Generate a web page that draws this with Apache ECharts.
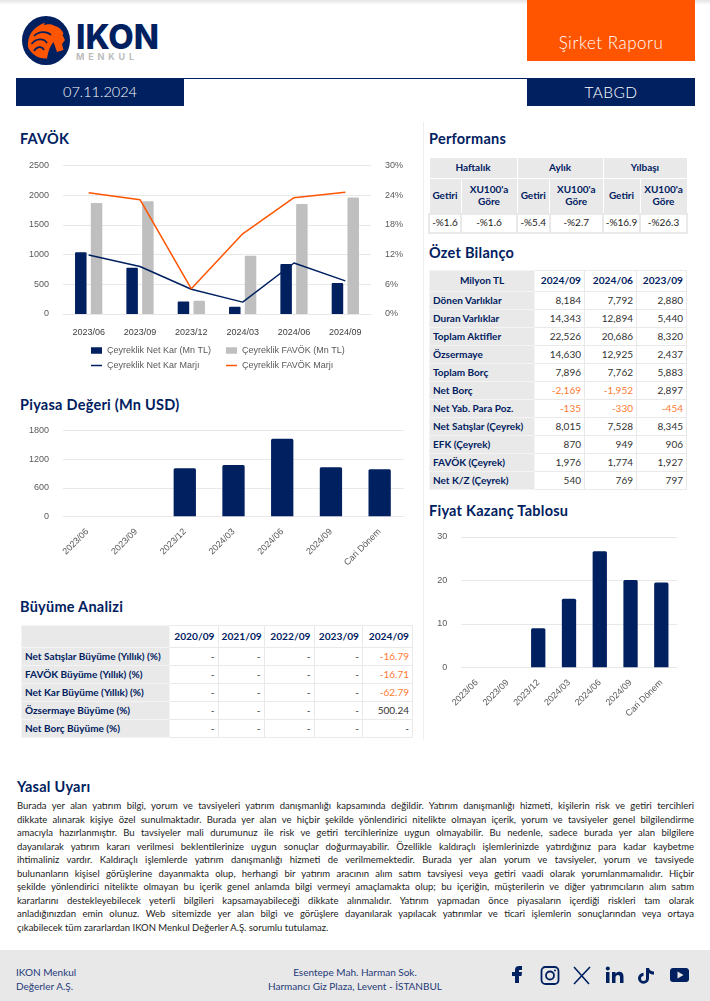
<!DOCTYPE html>
<html lang="tr"><head><meta charset="utf-8">
<script src="https://cdn.jsdelivr.net/npm/echarts@6/dist/echarts.min.js"></script>
<style>
html,body{margin:0;padding:0;background:#fff}
body{width:710px;height:1001px;position:relative;overflow:hidden;font-family:Lato,sans-serif;color:#002060}
.a{position:absolute}
.title{position:absolute;font:700 14.5px/18px Lato,sans-serif;letter-spacing:.25px;color:#002060;white-space:nowrap}
table{position:absolute;border-collapse:collapse;table-layout:fixed;font-size:10px;line-height:11.5px}
td{border:1px solid #e9e9e9;padding:0 3px;box-sizing:border-box;white-space:nowrap;overflow:hidden}
td.l{background:#e9e9e9;font-weight:700;color:#002060;border-color:#f4f4f4}
td.h{font-weight:700;color:#002060;text-align:right;font-size:10.2px}
td.v{text-align:right;color:#333}
td.n{color:#ff7a33}
td.c{text-align:center}
.g{background:#e9e9e9!important;border-color:#fff!important;font-weight:700;color:#002060;text-align:center}
#legal div{text-align:justify;text-align-last:justify;white-space:nowrap;height:13.55px;line-height:13.55px}
#legal div:last-child{text-align-last:left}
</style></head><body>
<div class="a" style="left:0;top:0;width:710px;height:5px;background:linear-gradient(#e4e4e4,#fff)"></div>
<svg class="a" style="left:20px;top:14px" width="145" height="52" viewBox="0 0 145 52">
<ellipse cx="26" cy="26.500" rx="24" ry="24.500" fill="#002060"/>
<path d="M8 33C7 22 13 13 25 8.500C24 10 24 10.500 24 11C28 9.500 32 10 35 12C39 13 42 16 43.500 19.500L42.500 21L45 26L42 30L43.500 36L37 38L33.500 28C30 32 28 38 27 44.500C18 45 11 40 8 33Z" fill="#ff5500"/>
<path d="M14 22C19 17 27 17 31 21M11.500 30C16 24 24 24 27 29M14 37C17 32 22 32 24 36" stroke="#002060" stroke-width="1.700" fill="none"/>
<text x="56" y="35" font-family="Inter,sans-serif" font-weight="800" font-size="34" fill="#002060" textLength="83" lengthAdjust="spacingAndGlyphs">IKON</text>
<text x="56" y="46" font-family="Inter,sans-serif" font-weight="700" font-size="9" fill="#bdbdbd" textLength="58">MENKUL</text>
</svg>
<div class="a" style="left:527px;top:0;width:168px;height:61px;background:#ff5500;color:#fff;font:300 17px/20px Lato;letter-spacing:.5px;text-align:center;padding-top:33px;box-sizing:border-box">Şirket Raporu</div>
<div class="a" style="left:16px;top:78px;width:679px;height:1px;background:#002060"></div>
<div class="a" style="left:16px;top:78px;width:168px;height:28px;background:#002060;color:#fff;font:300 14.5px/28px Lato;text-align:center">07.11.2024</div>
<div class="a" style="left:527px;top:78px;width:168px;height:28px;background:#002060;color:#fff;font:300 15.5px/28px Lato;letter-spacing:.4px;text-align:center">TABGD</div>
<div class="a" style="left:423px;top:122px;width:1px;height:618px;background:#eee"></div>

<div class="title" style="left:20px;top:130px">FAVÖK</div>
<div class="title" style="left:20px;top:396px">Piyasa Değeri (Mn USD)</div>
<div class="title" style="left:20px;top:598px">Büyüme Analizi</div>
<div class="title" style="left:429px;top:130px">Performans</div>
<div class="title" style="left:429px;top:244px">Özet Bilanço</div>
<div class="title" style="left:429px;top:502px">Fiyat Kazanç Tablosu</div>
<div class="title" style="left:17px;top:778px">Yasal Uyarı</div>

<div id="c1" class="a" style="left:0;top:150px;width:423px;height:235px"></div>
<div id="c2" class="a" style="left:0;top:415px;width:423px;height:175px"></div>
<div id="c3" class="a" style="left:424px;top:520px;width:286px;height:215px"></div>
<table id="tPerf" style="left:428px;top:157px;width:258px"></table>
<table id="tBal" style="left:429px;top:270px;width:257px"></table>
<table id="tGrow" style="left:21px;top:625px;width:391px"></table>
<div id="legal" class="a" style="left:17px;top:799px;width:677px;font-size:9.500px;color:#222"></div>
<div class="a" style="left:0;top:950px;width:710px;height:51px;background:#e8e8e8"></div>
<div class="a" style="left:16px;top:965px;font-size:10px;line-height:14px;color:#1f3a78">IKON Menkul<br>Değerler A.Ş.</div>
<div class="a" style="left:240px;top:965px;width:230px;text-align:center;font-size:10px;line-height:14px;color:#1f3a78">Esentepe Mah. Harman Sok.<br>Harmancı Giz Plaza, Levent - İSTANBUL</div>
<svg class="a" style="left:505px;top:960px" width="195" height="30" viewBox="505 960 195 30" fill="#002060">
<path d="M515 983V976H512V972H515V969.500C515 967 517 966 519 966H522V970H520C519 970 519 970.500 519 971V972H522L521.500 976H519V983Z"/>
<rect x="541.500" y="967" width="17" height="17" rx="4" fill="none" stroke="#002060" stroke-width="1.800"/><circle cx="550" cy="975.500" r="4" fill="none" stroke="#002060" stroke-width="1.800"/><circle cx="555" cy="970.500" r="1"/>
<path d="M574 967L589 984M590 967L574 984" stroke="#002060" stroke-width="1.600" fill="none"/>
<rect x="606" y="972" width="3.500" height="11"/><circle cx="607.800" cy="968.500" r="2"/><path d="M612 972H615.500V973.800C616.500 972.300 618 971.800 619.500 971.800C622 971.800 623.500 973.500 623.500 976.500V983H620V977.500C620 975.800 619.300 975 618 975C616.500 975 615.500 976 615.500 977.500V983H612Z"/>
<path d="M646 968V978.500A2.500 2.500 0 1 1 643.500 976V972.800A5.500 5.500 0 1 0 649 978.500V973C650.500 974 652 974.500 654 974.500V971.500C651 971.500 649.500 970 649 968Z"/>
<path d="M673 968H686C688 968 689 969.500 689 971V979C689 981 688 982 686 982H673C671 982 670 981 670 979V971C670 969.500 671 968 673 968Z"/><path d="M677.500 971.500L683.500 975L677.500 978.500Z" fill="#e8e8e8"/>
</svg>
<script>
const categories=["2023/06","2023/09","2023/12","2024/03","2024/06","2024/09"];
const netKar=[1040,780,210,120,840,520];
const favok=[1870,1900,225,980,1850,1960];
const netKarMarji=[11.9,9.6,5.0,2.4,10.3,6.7];
const favokMarji=[24.5,23.1,5.1,16.2,23.5,24.6];
const periodCats=["2023/06","2023/09","2023/12","2024/03","2024/06","2024/09","Cari Dönem"];
const piyasaDegeri=[null,null,1008,1079,1632,1030,988];
const fiyatKazanc=[null,null,9.0,15.8,26.7,20.1,19.5];

const perfGroups=["Haftalık","Aylık","Yılbaşı"];
const perfSub=["Getiri","XU100'a<br>Göre"];
const perfValues=["-%1.6","-%1.6","-%5.4","-%2.7","-%16.9","-%26.3"];
const balYears=["2024/09","2024/06","2023/09"];
const balLabels=["Dönen Varlıklar","Duran Varlıklar","Toplam Aktifler","Özsermaye","Toplam Borç","Net Borç","Net Yab. Para Poz.","Net Satışlar (Çeyrek)","EFK (Çeyrek)","FAVÖK (Çeyrek)","Net K/Z (Çeyrek)"];
const balValues=[["8,184","7,792","2,880"],["14,343","12,894","5,440"],["22,526","20,686","8,320"],["14,630","12,925","2,437"],["7,896","7,762","5,883"],["-2,169","-1,952","2,897"],["-135","-330","-454"],["8,015","7,528","8,345"],["870","949","906"],["1,976","1,774","1,927"],["540","769","797"]];
const growYears=["2020/09","2021/09","2022/09","2023/09","2024/09"];
const growLabels=["Net Satışlar Büyüme (Yıllık) (%)","FAVÖK Büyüme (Yıllık) (%)","Net Kar Büyüme (Yıllık) (%)","Özsermaye Büyüme (%)","Net Borç Büyüme (%)"];
const growValues=[["-","-","-","-","-16.79"],["-","-","-","-","-16.71"],["-","-","-","-","-62.79"],["-","-","-","-","500.24"],["-","-","-","-","-"]];
const legalLines=[
"Burada yer alan yatırım bilgi, yorum ve tavsiyeleri yatırım danışmanlığı kapsamında değildir. Yatırım danışmanlığı hizmeti, kişilerin risk ve getiri tercihleri",
"dikkate alınarak kişiye özel sunulmaktadır. Burada yer alan ve hiçbir şekilde yönlendirici nitelikte olmayan içerik, yorum ve tavsiyeler genel bilgilendirme",
"amacıyla hazırlanmıştır. Bu tavsiyeler mali durumunuz ile risk ve getiri tercihlerinize uygun olmayabilir. Bu nedenle, sadece burada yer alan bilgilere",
"dayanılarak yatırım kararı verilmesi beklentilerinize uygun sonuçlar doğurmayabilir. Özellikle kaldıraçlı işlemlerinizde yatırdığınız para kadar kaybetme",
"ihtimaliniz vardır. Kaldıraçlı işlemlerde yatırım danışmanlığı hizmeti de verilmemektedir. Burada yer alan yorum ve tavsiyeler, yorum ve tavsiyede",
"bulunanların kişisel görüşlerine dayanmakta olup, herhangi bir yatırım aracının alım satım tavsiyesi veya getiri vaadi olarak yorumlanmamalıdır. Hiçbir",
"şekilde yönlendirici nitelikte olmayan bu içerik genel anlamda bilgi vermeyi amaçlamakta olup; bu içeriğin, müşterilerin ve diğer yatırımcıların alım satım",
"kararlarını destekleyebilecek yeterli bilgileri kapsamayabileceği dikkate alınmalıdır. Yatırım yapmadan önce piyasaların içerdiği riskleri tam olarak",
"anladığınızdan emin olunuz. Web sitemizde yer alan bilgi ve görüşlere dayanılarak yapılacak yatırımlar ve ticari işlemlerin sonuçlarından veya ortaya",
"çıkabilecek tüm zararlardan IKON Menkul Değerler A.Ş. sorumlu tutulamaz."];

const NAVY="#002060",ORANGE="#ff5500",GREY="#bfbfbf",GRID="#e8e8e8",FONT="Liberation Sans";
const isNeg=s=>/^-\d/.test(s);
function colgroup(w){return "<colgroup>"+w.map(x=>`<col style="width:${x}px">`).join("")+"</colgroup>";}
{const w=[32,56,32.500,53.500,37,47];let h=colgroup(w);
 h+='<tr style="height:21px">'+perfGroups.map(g=>`<td class="g" colspan="2">${g}</td>`).join("")+"</tr>";
 h+='<tr style="height:35px">'+perfGroups.map(()=>perfSub.map(s=>`<td class="g" style="padding:0">${s}</td>`).join("")).join("")+"</tr>";
 h+='<tr style="height:19px">'+perfValues.map(v=>`<td class="c" style="color:#222;border:2px solid #e9e9e9;padding:0">${v}</td>`).join("")+"</tr>";
 tPerf.innerHTML=h;}
{let h=colgroup([105,50,52,50]);
 h+='<tr style="height:21px"><td class="l" style="text-align:center">Milyon TL</td>'+balYears.map(y=>`<td class="h">${y}</td>`).join("")+"</tr>";
 balLabels.forEach((l,i)=>{h+=`<tr style="height:18px"><td class="l">${l}</td>`+balValues[i].map(v=>`<td class="v${isNeg(v)?" n":""}">${v}</td>`).join("")+"</tr>";});
 tBal.innerHTML=h;}
{let h=colgroup([148,48.500,46,50,48.500,50]);
 h+='<tr style="height:22px"><td class="l"></td>'+growYears.map(y=>`<td class="h">${y}</td>`).join("")+"</tr>";
 growLabels.forEach((l,i)=>{h+=`<tr style="height:18px"><td class="l">${l}</td>`+growValues[i].map(v=>`<td class="v${isNeg(v)?" n":""}">${v}</td>`).join("")+"</tr>";});
 tGrow.innerHTML=h;}
legal.innerHTML=legalLines.map(t=>`<div>${t}</div>`).join("");

const plain=v=>String(v);
const tick={fontFamily:FONT,fontSize:9,color:"#595959"};
const split={show:true,lineStyle:{color:GRID,width:1}};
function legend(name,left,top,h){return {data:[{name,icon:"rect"}],left,top,itemWidth:11,itemHeight:h,textStyle:{fontFamily:FONT,fontSize:9,color:"#595959"},padding:0};}
const c1=echarts.init(document.getElementById("c1"));
c1.setOption({animation:false,
 legend:[legend("Çeyreklik Net Kar (Mn TL)",91,196,6.500),legend("Çeyreklik FAVÖK (Mn TL)",226,196,6.500),
         legend("Çeyreklik Net Kar Marjı",91,211,1.500),legend("Çeyreklik FAVÖK Marjı",226,211,1.500)],
 grid:{left:63,right:52,top:15.500,height:148.500},
 xAxis:{type:"category",data:categories,axisLine:{lineStyle:{color:GRID}},axisTick:{show:false},axisLabel:{fontFamily:FONT,fontSize:9,color:"#404040",margin:14}},
 yAxis:[{type:"value",min:0,max:2500,interval:500,axisLine:{show:false},axisTick:{show:false},axisLabel:Object.assign({margin:14,formatter:plain},tick),splitLine:split},
        {type:"value",min:0,max:30,interval:6,axisLine:{show:false},axisTick:{show:false},axisLabel:Object.assign({margin:14,formatter:"{value}%"},tick),splitLine:{show:false}}],
 series:[
 {name:"Çeyreklik Net Kar (Mn TL)",type:"bar",data:netKar,barWidth:11.500,barGap:"37%",itemStyle:{color:NAVY,borderRadius:[1,1,0,0]}},
 {name:"Çeyreklik FAVÖK (Mn TL)",type:"bar",data:favok,barWidth:11.500,barGap:"37%",itemStyle:{color:GREY,borderRadius:[1,1,0,0]}},
 {name:"Çeyreklik Net Kar Marjı",type:"line",yAxisIndex:1,data:netKarMarji,symbol:"none",lineStyle:{color:NAVY,width:1.500},itemStyle:{color:NAVY}},
 {name:"Çeyreklik FAVÖK Marjı",type:"line",yAxisIndex:1,data:favokMarji,symbol:"none",lineStyle:{color:ORANGE,width:1.500},itemStyle:{color:ORANGE}}]});
function barChart(id,data,max,interval,grid,bw){
 const c=echarts.init(document.getElementById(id));
 c.setOption({animation:false,grid,
  xAxis:{type:"category",data:periodCats,axisLine:{lineStyle:{color:GRID}},axisTick:{show:false},axisLabel:Object.assign({rotate:45,interval:0,margin:14},tick)},
  yAxis:{type:"value",min:0,max,interval,axisLine:{show:false},axisTick:{show:false},axisLabel:Object.assign({margin:14,formatter:plain},tick),splitLine:split},
  series:[{type:"bar",data,barWidth:bw,itemStyle:{color:NAVY,borderRadius:[1.500,1.500,0,0]}}]});
}
barChart("c2",piyasaDegeri,1800,600,{left:63,right:19,top:15.700,height:85.600},22.300);
barChart("c3",fiyatKazanc,30,10,{left:37.300,right:33.300,top:17,height:130.300},14.300);
</script>
</body></html>
